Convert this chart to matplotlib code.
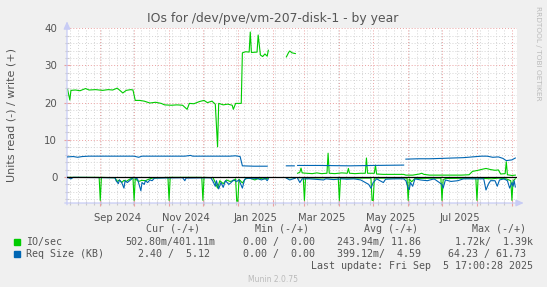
import numpy as np
import pandas as pd
import matplotlib
matplotlib.use('Agg')
import matplotlib.pyplot as plt
import matplotlib.dates as mdates
from matplotlib.ticker import MultipleLocator, NullFormatter
from matplotlib.patches import Rectangle

W, H = 547, 287
GREEN = '#00CC00'
BLUE = '#0066B3'
TXT = '#555555'

# IO/sec, write (+)
io_w_date = ['2024-08-03', '2024-08-05', '2024-08-06', '2024-08-10', '2024-08-14', '2024-08-19',
             '2024-08-22', '2024-08-28', '2024-09-03', '2024-09-08', '2024-09-12', '2024-09-16',
             '2024-09-18', '2024-09-21', '2024-09-24', '2024-09-28', '2024-09-30', '2024-10-02',
             '2024-10-06', '2024-10-10', '2024-10-15', '2024-10-20', '2024-10-25', '2024-10-28',
             '2024-11-03', '2024-11-08', '2024-11-13', '2024-11-17', '2024-11-19', '2024-11-23',
             '2024-11-28', '2024-12-02', '2024-12-05', '2024-12-09', '2024-12-12', '2024-12-14',
             '2024-12-15', '2024-12-19', '2024-12-23', '2024-12-27', '2024-12-28', '2024-12-30',
             '2025-01-04', '2025-01-05', '2025-01-08', '2025-01-11', '2025-01-12', '2025-01-13',
             '2025-01-18', '2025-01-19', '2025-01-21', '2025-01-23', '2025-01-25', '2025-01-27',
             '2025-01-28', '2025-02-05', '2025-02-13', '2025-02-15', '2025-02-16', '2025-02-18',
             '2025-02-21', '2025-02-22', '2025-02-23', '2025-02-25', '2025-02-26', '2025-02-27',
             '2025-03-03', '2025-03-08', '2025-03-12', '2025-03-16', '2025-03-21', '2025-03-22',
             '2025-03-23', '2025-03-28', '2025-04-03', '2025-04-08', '2025-04-09', '2025-04-10',
             '2025-04-15', '2025-04-20', '2025-04-24', '2025-04-25', '2025-04-26', '2025-05-02',
             '2025-05-03', '2025-05-04', '2025-05-10', '2025-05-16', '2025-05-22', '2025-05-28',
             '2025-05-30', '2025-06-05', '2025-06-11', '2025-06-13', '2025-06-15', '2025-06-20',
             '2025-06-27', '2025-07-03', '2025-07-10', '2025-07-18', '2025-07-25', '2025-07-28',
             '2025-08-02', '2025-08-06', '2025-08-09', '2025-08-13', '2025-08-17', '2025-08-20',
             '2025-08-22', '2025-08-26', '2025-08-27', '2025-08-28', '2025-09-01', '2025-09-04']
io_w = [23.6, 20.7, 23.3, 23.4, 23.2, 23.8,
        23.4, 23.5, 23.3, 23.5, 23.4, 23.9,
        23.4, 22.6, 23.3, 23.5, 23.4, 20.6,
        20.6, 20.4, 19.9, 20.1, 19.8, 19.4,
        19.3, 19.4, 19.3, 18.2, 19.8, 19.7,
        20.3, 20.6, 20.0, 20.4, 19.6, 8.1,
        19.8, 19.4, 19.6, 19.3, 18.2, 19.8,
        19.8, 33.4, 33.7, 33.6, 39.0, 33.5,
        33.6, 38.2, 32.8, 32.4, 33.1, 32.5,
        34.1, None, 32.3, 33.5, 33.9, 33.4,
        33.2, None, 1.0, 1.3, 2.4, 1.1,
        1.0, 0.9, 1.1, 0.9, 1.0, 6.4,
        1.0, 0.9, 1.1, 1.0, 2.3, 1.0,
        0.9, 1.0, 1.0, 5.1, 1.0, 1.0,
        3.2, 0.8, 0.7, 0.7, 0.7, 0.7,
        0.5, 0.5, 0.8, 1.0, 0.7, 0.5,
        0.5, 0.5, 0.5, 0.5, 0.6, 1.5,
        1.8, 2.1, 2.3, 2.0, 1.8, 1.9,
        0.8, 0.9, 4.1, 0.6, 0.4, 0.5]

# IO/sec, read (-)
io_r_date = ['2024-08-03', '2024-08-31', '2024-09-01', '2024-09-02', '2024-09-14', '2024-09-16',
             '2024-09-18', '2024-09-20', '2024-09-22', '2024-09-24', '2024-09-27', '2024-09-30',
             '2024-10-01', '2024-10-02', '2024-10-05', '2024-10-08', '2024-10-11', '2024-10-14',
             '2024-10-17', '2024-10-31', '2024-11-01', '2024-11-02', '2024-11-30', '2024-12-01',
             '2024-12-02', '2024-12-10', '2024-12-12', '2024-12-14', '2024-12-16', '2024-12-19',
             '2024-12-22', '2024-12-25', '2024-12-28', '2024-12-30', '2024-12-31', '2025-01-01',
             '2025-01-02', '2025-01-05', '2025-01-08', '2025-01-12', '2025-01-16', '2025-01-20',
             '2025-01-24', '2025-01-28', '2025-02-05', '2025-02-13', '2025-02-21', '2025-02-22',
             '2025-02-23', '2025-02-28', '2025-03-01', '2025-03-02', '2025-03-31', '2025-04-01',
             '2025-04-02', '2025-04-29', '2025-04-30', '2025-05-01', '2025-05-02', '2025-05-31',
             '2025-06-01', '2025-06-02', '2025-06-04', '2025-06-07', '2025-06-30', '2025-07-01',
             '2025-07-02', '2025-07-04', '2025-07-31', '2025-08-01', '2025-08-02', '2025-08-14',
             '2025-08-20', '2025-08-27', '2025-08-31', '2025-09-01', '2025-09-02', '2025-09-04']
io_r = [0.1, 0.1, 6.3, 0.1, 0.2, 1.2,
        0.8, 1.5, 0.9, 1.2, 0.6, 0.2,
        6.3, 0.5, 1.2, 0.9, 1.0, 0.6,
        0.3, 0.1, 6.3, 0.1, 0.1, 6.3,
        0.1, 0.2, 1.5, 3.0, 1.0, 1.8,
        0.8, 1.2, 1.0, 0.5, 6.5, 6.5,
        0.6, 1.6, 0.4, 0.3, 0.8, 0.3,
        0.6, 0.3, None, 0.2, 0.2, None,
        0.2, 0.2, 6.3, 0.3, 0.2, 6.3,
        0.3, 0.3, 6.3, 6.3, 0.3, 0.3,
        6.3, 0.5, 1.3, 0.4, 0.3, 6.3,
        0.8, 0.4, 0.3, 6.3, 0.3, 0.5,
        0.3, 0.5, 1.0, 6.3, 1.0, 0.5]

# Req Size (KB), write (+)
rs_w_date = ['2024-08-03', '2024-08-08', '2024-08-12', '2024-08-16', '2024-08-22', '2024-09-01',
             '2024-09-10', '2024-09-20', '2024-10-01', '2024-10-05', '2024-10-08', '2024-10-20',
             '2024-11-01', '2024-11-15', '2024-11-20', '2024-11-22', '2024-12-10', '2024-12-25',
             '2024-12-30', '2025-01-03', '2025-01-05', '2025-01-15', '2025-01-27', '2025-02-05',
             '2025-02-13', '2025-02-20', '2025-02-22', '2025-02-23', '2025-03-15', '2025-04-10',
             '2025-05-01', '2025-05-28', '2025-05-29', '2025-05-30', '2025-06-10', '2025-06-20',
             '2025-07-01', '2025-07-10', '2025-07-20', '2025-07-28', '2025-08-05', '2025-08-10',
             '2025-08-15', '2025-08-20', '2025-08-24', '2025-08-27', '2025-09-01', '2025-09-04']
rs_w = [5.4, 5.5, 5.3, 5.5, 5.6, 5.6,
        5.6, 5.6, 5.6, 5.3, 5.6, 5.6,
        5.6, 5.6, 5.8, 5.6, 5.6, 5.6,
        5.7, 5.5, 3.0, 2.9, 2.9, None,
        3.0, 3.0, None, 3.1, 3.1, 3.0,
        3.1, 3.2, None, 4.8, 4.9, 4.9,
        5.0, 5.1, 5.2, 5.4, 5.6, 5.6,
        5.3, 5.4, 5.0, 4.4, 4.6, 5.1]

# Req Size (KB), read (-)
rs_r_date = ['2024-08-03', '2024-08-06', '2024-08-08', '2024-09-14', '2024-09-15', '2024-09-17',
             '2024-09-18', '2024-09-20', '2024-09-22', '2024-09-23', '2024-09-25', '2024-09-27',
             '2024-09-29', '2024-09-30', '2024-10-04', '2024-10-07', '2024-10-08', '2024-10-10',
             '2024-10-11', '2024-10-13', '2024-10-15', '2024-10-17', '2024-10-19', '2024-11-13',
             '2024-11-15', '2024-11-16', '2024-12-08', '2024-12-10', '2024-12-12', '2024-12-13',
             '2024-12-15', '2024-12-17', '2024-12-19', '2024-12-21', '2024-12-24', '2024-12-26',
             '2024-12-28', '2024-12-31', '2025-01-02', '2025-01-05', '2025-01-07', '2025-01-10',
             '2025-01-14', '2025-01-18', '2025-01-22', '2025-01-25', '2025-01-27', '2025-01-28',
             '2025-02-05', '2025-02-13', '2025-02-16', '2025-02-21', '2025-02-22', '2025-02-23',
             '2025-02-25', '2025-02-27', '2025-03-05', '2025-03-10', '2025-03-18', '2025-03-20',
             '2025-03-27', '2025-04-03', '2025-04-08', '2025-04-14', '2025-04-20', '2025-04-27',
             '2025-04-29', '2025-05-01', '2025-05-04', '2025-05-10', '2025-05-12', '2025-05-20',
             '2025-05-28', '2025-05-30', '2025-06-01', '2025-06-02', '2025-06-03', '2025-06-05',
             '2025-06-07', '2025-06-12', '2025-06-18', '2025-06-24', '2025-07-01', '2025-07-02',
             '2025-07-04', '2025-07-09', '2025-07-15', '2025-07-20', '2025-07-27', '2025-08-07',
             '2025-08-09', '2025-08-11', '2025-08-13', '2025-08-17', '2025-08-19', '2025-08-21',
             '2025-08-25', '2025-08-28', '2025-08-30', '2025-09-01', '2025-09-02', '2025-09-03',
             '2025-09-04']
rs_r = [0.1, 0.5, 0.1, 0.2, 1.0, 1.8,
        0.8, 1.5, 3.0, 1.0, 1.5, 1.0,
        0.5, 0.1, 0.5, 3.7, 1.5, 2.0,
        1.0, 1.5, 0.8, 1.0, 0.3, 0.2,
        1.0, 0.3, 0.2, 1.2, 2.5, 1.0,
        3.2, 1.5, 2.8, 1.0, 2.0, 1.5,
        0.8, 1.2, 0.8, 3.0, 0.6, 0.3,
        0.5, 0.4, 0.8, 0.3, 1.0, 0.5,
        None, 0.3, 0.8, 0.3, None, 0.4,
        1.5, 0.5, 0.5, 0.6, 0.8, 0.5,
        0.7, 0.5, 0.6, 0.5, 0.8, 2.0,
        3.0, 1.5, 0.5, 1.5, 0.6, 0.5,
        0.5, 1.0, 3.0, 3.4, 1.5, 2.5,
        0.5, 0.8, 1.0, 0.5, 2.0, 3.0,
        0.8, 1.2, 1.0, 0.5, 0.5, 0.5,
        3.5, 2.0, 1.0, 1.0, 2.5, 0.8,
        0.5, 1.0, 3.0, 1.5, 2.5, 1.0,
        2.7]

month_labels = ['Sep 2024', 'Nov 2024', 'Jan 2025', 'Mar 2025', 'May 2025', 'Jul 2025']
y_ticks = [0, 10, 20, 30, 40]

legend_head = ['Cur (-/+)', 'Min (-/+)', 'Avg (-/+)', 'Max (-/+)']
io_legend = ['502.80m/401.11m', '0.00 /  0.00', '243.94m/ 11.86', '1.72k/  1.39k']
rs_legend = ['2.40 /  5.12', '0.00 /  0.00', '399.12m/  4.59', '64.23 / 61.73']


def series(dates, vals, sign):
    d = pd.to_datetime(dates)
    v = np.array([np.nan if x is None else sign * x for x in vals], dtype=float)
    return d, v


def fx(x):
    return x / W


def fy(y):
    return 1 - y / H


fig = plt.figure(figsize=(W / 100, H / 100), dpi=100, facecolor='#F0F0F0')
ax = fig.add_axes([fx(67), fy(203), 450 / W, (203 - 28.3) / H])
ax.set_facecolor('white')

ax.plot(*series(io_r_date, io_r, -1), color=GREEN, lw=0.8, zorder=3)
ax.plot(*series(io_w_date, io_w, 1), color=GREEN, lw=0.8, zorder=3)
ax.plot(*series(rs_r_date, rs_r, -1), color=BLUE, lw=0.8, zorder=4)
ax.plot(*series(rs_w_date, rs_w, 1), color=BLUE, lw=0.8, zorder=4)
ax.axhline(0, color='black', lw=0.9, zorder=5)

ax.set_xlim(pd.Timestamp('2024-08-02 12:00'), pd.Timestamp('2025-09-05 12:00'))
ax.set_ylim(-7, 40)

ax.xaxis.set_major_locator(mdates.MonthLocator())
ax.xaxis.set_minor_locator(mdates.WeekdayLocator(byweekday=mdates.MO))
ax.xaxis.set_major_formatter(NullFormatter())
ax.set_yticks(y_ticks)
ax.yaxis.set_minor_locator(MultipleLocator(2))

ax.grid(which='minor', color='#d4d4d4', ls=(0, (1, 2)), lw=0.7)
ax.grid(which='major', color='#eaa0a0', ls=(0, (1, 2)), lw=0.7)
ax.set_axisbelow(True)

for s in ax.spines.values():
    s.set_visible(False)
ax.tick_params(which='major', direction='inout', length=4, width=0.8, color='#eaa0a0',
               labelsize=7.4, labelcolor=TXT)
ax.tick_params(which='minor', direction='inout', length=3, width=0.8, color='#c8c8c8')
ax.tick_params(axis='y', pad=5)

# axis arrows
arrow = dict(arrowstyle='-|>,head_length=0.45,head_width=0.2', color='#c8ccf5', lw=0.9,
             shrinkA=0, shrinkB=0)
ax.annotate('', xy=(1.015, 0), xytext=(-0.005, 0), xycoords='axes fraction', arrowprops=arrow,
            annotation_clip=False)
ax.annotate('', xy=(0, 1.04), xytext=(0, -0.01), xycoords='axes fraction', arrowprops=arrow,
            annotation_clip=False)

# month labels centred on the middle of the month
for lab in month_labels:
    start = pd.Timestamp(lab)
    mid = start + (start + pd.offsets.MonthBegin(1) - start) / 2
    ax.text(mid, -0.055, lab, transform=ax.get_xaxis_transform(), ha='center', va='top',
            fontsize=7.2, color=TXT)

fig.text(fx(273), fy(18.5), 'IOs for /dev/pve/vm-207-disk-1 - by year', ha='center', va='center',
         fontsize=8.9, color=TXT)
fig.text(fx(12), fy(115), 'Units read (-) / write (+)', rotation=90, ha='center', va='center',
         fontsize=8.0, color=TXT)
fig.text(fx(538), fy(53), 'RRDTOOL / TOBI OETIKER', rotation=-90, ha='center', va='center',
         fontsize=5.3, color='#bbbbbb')

# legend
mono = dict(family='DejaVu Sans Mono', fontsize=7.2, color=TXT, va='center')
for txt, cx in zip(legend_head, [173.5, 282.3, 390.5, 499.5]):
    fig.text(fx(cx), fy(228.6), txt, ha='center', **mono)

fig.patches.append(Rectangle((fx(14), fy(245)), 6 / W, 6 / H, transform=fig.transFigure,
                             color=GREEN, figure=fig))
fig.patches.append(Rectangle((fx(14), fy(257)), 6 / W, 6 / H, transform=fig.transFigure,
                             color=BLUE, figure=fig))
fig.text(fx(26), fy(241.9), 'IO/sec', ha='left', **mono)
fig.text(fx(26), fy(254), 'Req Size (KB)', ha='left', **mono)
for txt, rx in zip(io_legend, [215.6, 315, 421, 533]):
    fig.text(fx(rx), fy(241.9), txt, ha='right', **mono)
for txt, rx in zip(rs_legend, [209.5, 315, 421, 526]):
    fig.text(fx(rx), fy(254), txt, ha='right', **mono)
fig.text(fx(533), fy(266.3), 'Last update: Fri Sep  5 17:00:28 2025', ha='right', **mono)
fig.text(fx(273), fy(279.6), 'Munin 2.0.75', ha='center', va='center', fontsize=5.5,
         color='#bbbbbb')

fig.savefig('out.png', dpi=100, facecolor=fig.get_facecolor())
